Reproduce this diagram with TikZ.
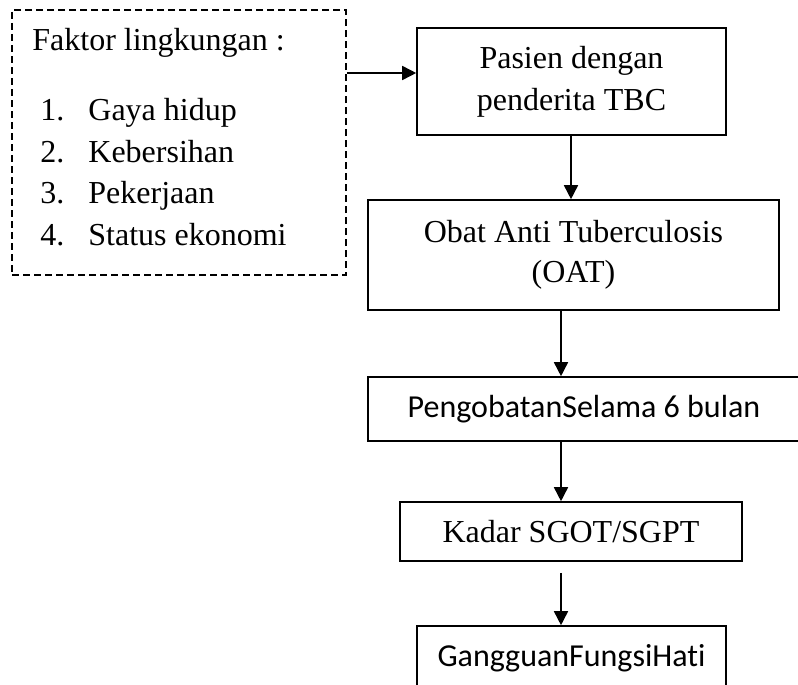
\documentclass[tikz,border=0pt]{standalone}
\usepackage{fontspec}
\setmainfont{Liberation Serif}
\newfontfamily\calib[Ligatures=NoCommon]{Carlito}
\usetikzlibrary{arrows.meta}
\begin{document}
\begin{tikzpicture}[x=0.5pt,y=-0.5pt,
  box/.style={draw,line width=0.8pt,inner sep=0pt,align=center,font=\fontsize{16}{21}\selectfont},
  sbox/.style={box,font=\calib\fontsize{16}{19}\selectfont},
  arr/.style={line width=0.8pt,-{Triangle[length=7pt,width=7pt]}},
  txt/.style={anchor=base west,inner sep=0pt,font=\fontsize{16}{20}\selectfont}]
\useasboundingbox (0,0) rectangle (798,685);
\clip (0,0) rectangle (798,685);
% dashed box
\node[draw,dashed,dash pattern=on 3.5pt off 2pt,line width=0.8pt,minimum width=167pt,minimum height=132.5pt,inner sep=0pt] (fak) at (179,142.5) {};
\node[txt] (t0) at (32,50) {Faktor lingkungan :};
\node[txt] (n1) at (40,120) {1.};
\node[txt] (i1) at (88,120) {Gaya hidup};
\node[txt] (n2) at (40,162) {2.};
\node[txt] (i2) at (88,162) {Kebersihan};
\node[txt] (n3) at (40,203) {3.};
\node[txt] (i3) at (88,203) {Pekerjaan};
\node[txt] (n4) at (40,245) {4.};
\node[txt] (i4) at (88,245) {Status ekonomi};
% flow boxes
\node[box,minimum width=154.5pt,minimum height=53.5pt] (pa) at (571.5,81.5) {Pasien dengan\\penderita TBC};
\node[box,minimum width=205.5pt,minimum height=55pt,font=\fontsize{16}{20}\selectfont] (oat) at (573.5,255) {Obat Anti Tuberculosis\\(OAT)};
\node[sbox,minimum width=216pt,minimum height=32pt] (pe) at (584,409) {PengobatanSelama 6 bulan};
\node[box,minimum width=171pt,minimum height=29.5pt] (ka) at (571,531.5) {Kadar SGOT/SGPT};
\node[sbox,minimum width=154.5pt,minimum height=32pt] (ga) at (571.5,658) {GangguanFungsiHati};
% connectors
\coordinate (ya) at (0,73);
\coordinate (xa) at (571,0);
\coordinate (xb) at (561,0);
\draw[arr] (fak.east |- ya) -- (pa.west |- ya);
\draw[arr] (pa.south -| xa) -- (oat.north -| xa);
\draw[arr] (oat.south -| xb) -- (pe.north -| xb);
\draw[arr] (pe.south -| xb) -- (ka.north -| xb);
\draw[arr,shorten <=5.5pt] (ka.south -| xb) -- (ga.north -| xb);
\end{tikzpicture}
\end{document}
